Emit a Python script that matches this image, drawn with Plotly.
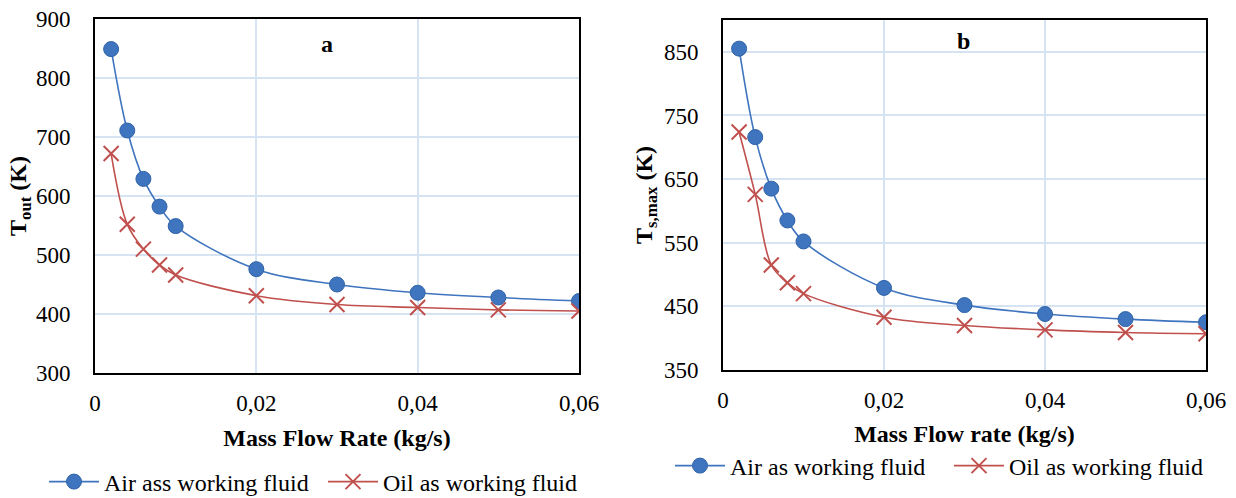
import plotly.graph_objects as go

# ---- data ----
mass_flow = [0.002, 0.004, 0.006, 0.008, 0.01, 0.02, 0.03, 0.04, 0.05, 0.06]

# panel a: outlet temperature
a_air = [849, 711, 629, 582, 549, 476, 450, 436, 428, 422]
a_oil = [672, 552, 510, 483, 466, 431, 416, 411, 407, 405]

# panel b: maximum surface temperature
b_air = [855, 716, 635, 585, 552, 479, 452, 438, 430, 425]
b_oil = [724, 626, 515, 487, 470, 433, 420, 413, 409, 407]

x_ticks = [0, 0.02, 0.04, 0.06]
x_ticktext = ["0", "0,02", "0,04", "0,06"]
a_yticks = [300, 400, 500, 600, 700, 800, 900]
b_yticks = [350, 450, 550, 650, 750, 850]

names_a = ["Air ass working fluid", "Oil as working fluid"]
names_b = ["Air as working fluid", "Oil as working fluid"]

# ---- style ----
BLUE = "#3f74bf"
RED = "#c0504d"
GRID = "#d6e3f3"
FONT = "Liberation Serif, Times New Roman, serif"
W, H = 1236, 498

fig = go.Figure()


def add_pair(xa, ya, air, oil, names, legend):
    fig.add_trace(go.Scatter(
        x=mass_flow, y=air, name=names[0], xaxis=xa, yaxis=ya, legend=legend,
        mode="lines+markers",
        line=dict(color=BLUE, width=1.6, shape="spline", smoothing=1.0),
        marker=dict(symbol="circle", size=15, color=BLUE,
                    line=dict(color="#2f62a8", width=1)),
    ))
    fig.add_trace(go.Scatter(
        x=mass_flow, y=oil, name=names[1], xaxis=xa, yaxis=ya, legend=legend,
        mode="lines+markers",
        line=dict(color=RED, width=1.6, shape="spline", smoothing=1.0),
        marker=dict(symbol="x-thin", size=15, color=RED,
                    line=dict(color=RED, width=2)),
    ))


add_pair("x", "y", a_air, a_oil, names_a, "legend")
add_pair("x2", "y2", b_air, b_oil, names_b, "legend2")


def PX(x):
    return x / W


def PY(y):
    return 1 - y / H


def axis(**kw):
    d = dict(
        showline=True, mirror=True, linecolor="black", linewidth=2,
        showgrid=True, gridcolor=GRID, gridwidth=1.5,
        zeroline=False, ticks="", ticklabeloverflow="allow",
        tickfont=dict(family=FONT, size=23, color="black"),
    )
    d.update(kw)
    return d


title_font = dict(family=FONT, size=24, color="black")
legend_common = dict(orientation="h", xanchor="left", yanchor="middle",
                     font=dict(family=FONT, size=24, color="black"), itemwidth=50,
                     entrywidth=214, entrywidthmode="pixels",
                     bgcolor="rgba(0,0,0,0)")

fig.update_layout(
    width=W, height=H,
    margin=dict(l=0, r=0, t=0, b=0, autoexpand=False),
    paper_bgcolor="white", plot_bgcolor="white",
    font=dict(family=FONT, color="black", size=20),
    xaxis=axis(domain=[PX(95), PX(579)], anchor="y", range=[0, 0.06],
               tickvals=x_ticks, ticktext=x_ticktext, ticklabelstandoff=8,
               title=dict(text="<b>Mass Flow Rate (kg/s)</b>", font=title_font, standoff=15)),
    yaxis=axis(domain=[PY(373), PY(19)], anchor="x", range=[300, 900],
               tickvals=a_yticks, ticklabelstandoff=18,
               title=dict(text="<b>T<sub>out</sub> (K)</b>", font=title_font, standoff=3)),
    xaxis2=axis(domain=[PX(723), PX(1206)], anchor="y2", range=[0, 0.06],
                tickvals=x_ticks, ticktext=x_ticktext, ticklabelstandoff=8,
                title=dict(text="<b>Mass Flow rate (kg/s)</b>", font=title_font, standoff=14)),
    yaxis2=axis(domain=[PY(370), PY(20)], anchor="x2", range=[350, 900],
                tickvals=b_yticks, ticklabelstandoff=18,
                title=dict(text="<b>T<sub>s,max</sub> (K)</b>", font=title_font, standoff=5)),
    legend=dict(legend_common, x=PX(44), y=PY(482)),
    legend2=dict(legend_common, x=PX(670), y=PY(466)),
    annotations=[
        dict(text="<b>a</b>", xref="paper", yref="paper", x=PX(327), y=PY(44),
             xanchor="center", yanchor="middle",
             showarrow=False, font=dict(family=FONT, size=24, color="black")),
        dict(text="<b>b</b>", xref="paper", yref="paper", x=PX(963), y=PY(41),
             xanchor="center", yanchor="middle",
             showarrow=False, font=dict(family=FONT, size=24, color="black")),
    ],
    showlegend=True,
)

# remove the default 8px page margin so the figure fills the window exactly
fig.write_html("out.html", config={"displayModeBar": False},
               post_script="document.body.style.margin='0';")
